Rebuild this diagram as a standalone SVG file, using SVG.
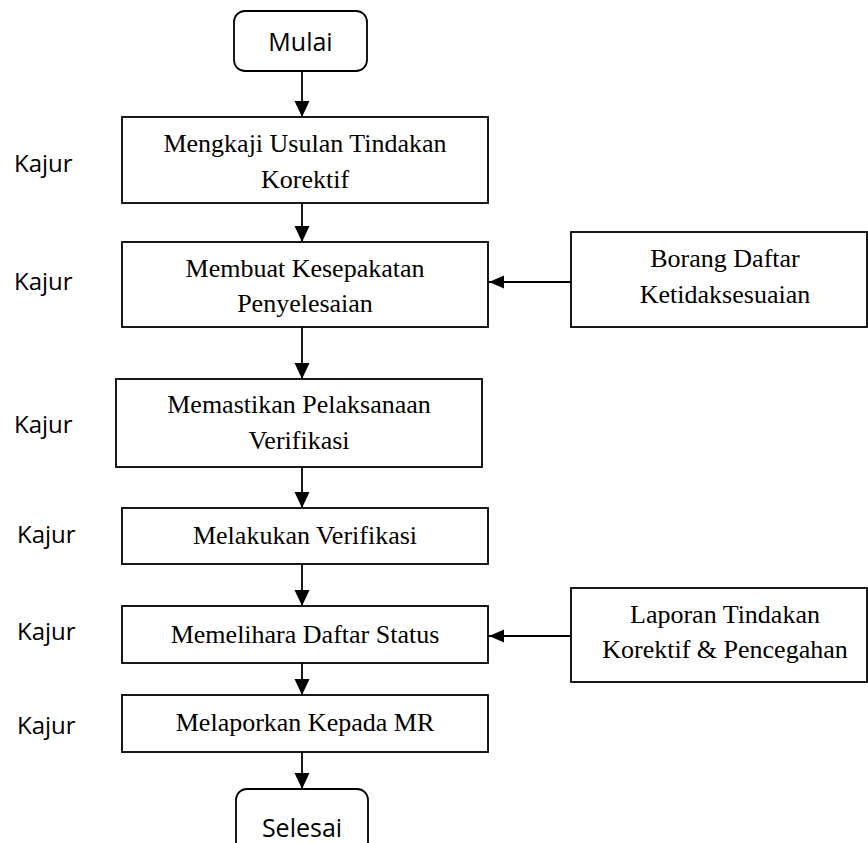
<svg xmlns="http://www.w3.org/2000/svg" width="868" height="843" viewBox="0 0 868 843">
<style>
.box{fill:#fff;stroke:#000;stroke-width:1.8}
.serif{font-family:"Liberation Serif","Times New Roman",serif;font-size:26px;fill:#000;text-anchor:middle}
.sans{font-family:"Open Sans","Noto Sans",sans-serif;font-size:24px;fill:#000}
.term{font-family:"Open Sans","Noto Sans",sans-serif;font-size:25px;fill:#000;text-anchor:middle}
.line{stroke:#000;stroke-width:1.8;fill:none}
</style>
<defs>
<marker id="arr" markerWidth="16" markerHeight="16" viewBox="0 0 16 16" refX="16" refY="8" orient="auto" markerUnits="userSpaceOnUse">
<path d="M0,0.5 L16,8 L0,15.5 Z" fill="#000"/>
</marker>
<marker id="arrh" markerWidth="15" markerHeight="14" viewBox="0 0 15 14" refX="15" refY="7" orient="auto" markerUnits="userSpaceOnUse">
<path d="M0,0.5 L15,7 L0,13.5 Z" fill="#000"/>
</marker>
</defs>
<rect width="868" height="843" fill="#fff"/>
<g id="connectors">
<line class="line" x1="302" y1="71" x2="302" y2="117" marker-end="url(#arr)"/>
<line class="line" x1="302" y1="203" x2="302" y2="242" marker-end="url(#arr)"/>
<line class="line" x1="302" y1="327" x2="302" y2="379" marker-end="url(#arr)"/>
<line class="line" x1="302" y1="467" x2="302" y2="508" marker-end="url(#arr)"/>
<line class="line" x1="302" y1="564" x2="302" y2="606" marker-end="url(#arr)"/>
<line class="line" x1="302" y1="663" x2="302" y2="695" marker-end="url(#arr)"/>
<line class="line" x1="302" y1="752" x2="302" y2="789" marker-end="url(#arr)"/>
<line class="line" x1="571" y1="282" x2="489" y2="282" marker-end="url(#arrh)"/>
<line class="line" x1="571" y1="636" x2="489" y2="636" marker-end="url(#arrh)"/>
</g>
<g id="mulai">
<rect class="box" x="234" y="11" width="133" height="60" rx="11"/>
<text class="term" x="300.5" y="51">Mulai</text>
</g>
<g id="n1">
<rect class="box" x="122" y="117" width="366" height="86"/>
<text class="serif" x="305" y="152">Mengkaji Usulan Tindakan</text>
<text class="serif" x="305" y="188">Korektif</text>
</g>
<g id="n2">
<rect class="box" x="122" y="242" width="366" height="85"/>
<text class="serif" x="305" y="277">Membuat Kesepakatan</text>
<text class="serif" x="305" y="312">Penyelesaian</text>
</g>
<g id="n3">
<rect class="box" x="116" y="379" width="366" height="88"/>
<text class="serif" x="299" y="413">Memastikan Pelaksanaan</text>
<text class="serif" x="299" y="449">Verifikasi</text>
</g>
<g id="n4">
<rect class="box" x="122" y="508" width="366" height="56"/>
<text class="serif" x="305" y="544">Melakukan Verifikasi</text>
</g>
<g id="n5">
<rect class="box" x="122" y="606" width="366" height="57"/>
<text class="serif" x="305" y="643">Memelihara Daftar Status</text>
</g>
<g id="n6">
<rect class="box" x="122" y="695" width="366" height="57"/>
<text class="serif" x="305" y="731">Melaporkan Kepada MR</text>
</g>
<g id="selesai">
<rect class="box" x="236" y="789" width="132" height="80" rx="11"/>
<text class="term" x="302" y="837">Selesai</text>
</g>
<g id="borang">
<rect class="box" x="571" y="232" width="296" height="95"/>
<text class="serif" x="725" y="267">Borang Daftar</text>
<text class="serif" x="725" y="303">Ketidaksesuaian</text>
</g>
<g id="laporan">
<rect class="box" x="571" y="588" width="296" height="94"/>
<text class="serif" x="725" y="623">Laporan Tindakan</text>
<text class="serif" x="725" y="658">Korektif &amp; Pencegahan</text>
</g>
<g id="labels">
<text class="sans" x="14" y="172">Kajur</text>
<text class="sans" x="14" y="290">Kajur</text>
<text class="sans" x="14" y="433">Kajur</text>
<text class="sans" x="17" y="543">Kajur</text>
<text class="sans" x="17" y="640">Kajur</text>
<text class="sans" x="17" y="734">Kajur</text>
</g>
</svg>
